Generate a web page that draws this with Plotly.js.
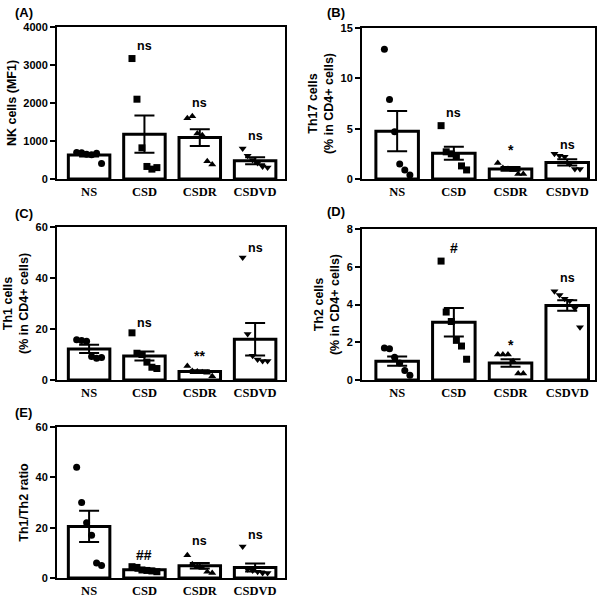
<!DOCTYPE html>
<html>
<head>
<meta charset="utf-8">
<script src="https://cdn.plot.ly/plotly-3.0.1.min.js"></script>
<style>html,body{margin:0;padding:0;background:#fff;}#chart{width:600px;height:599px;}</style>
</head>
<body>
<div id="chart"></div>
<script>
// ---- data ----
const categories = ["NS", "CSD", "CSDR", "CSDVD"];

// Panel A: NK cells (MF1)
const nkMean = [630, 1180, 1090, 480];
const nkSem = [40, 490, 220, 90];
const nkNS = [700, 690, 650, 640, 680, 410];
const nkCSD = [3170, 2100, 820, 330, 260, 300];
const nkCSDR = [1600, 1650, 1200, 1150, 470, 380];
const nkCSDVD = [800, 610, 500, 420, 330, 300];
const nkSig = ["", "ns", "ns", "ns"];
const nkSigY = [0, 3500, 2000, 1140];

// Panel B: Th17 cells
const th17Mean = [4.75, 2.55, 1.0, 1.65];
const th17Sem = [2.0, 0.65, 0.18, 0.3];
const th17NS = [12.9, 7.9, 4.7, 1.5, 0.9, 0.4];
const th17CSD = [5.3, 2.7, 2.5, 2.3, 1.3, 0.9];
const th17CSDR = [1.6, 1.1, 1.0, 0.9, 0.5, 0.5];
const th17CSDVD = [2.5, 2.3, 2.2, 1.5, 1.0, 1.0];
const th17Sig = ["", "ns", "*", "ns"];
const th17SigY = [0, 6.6, 2.85, 3.4];

// Panel C: Th1 cells
const th1Mean = [12.2, 9.4, 3.3, 16.0];
const th1Sem = [1.6, 1.8, 0.55, 6.4];
const th1NS = [15.8, 15.5, 15.2, 9.2, 8.5, 8.8];
const th1CSD = [18.5, 10.5, 10.0, 7.0, 5.0, 4.5];
const th1CSDR = [5.5, 3.5, 3.3, 3.0, 2.8, 1.5];
const th1CSDVD = [48, 18, 9.5, 8.0, 7.5, 7.5];
const th1Sig = ["", "ns", "**", "ns"];
const th1SigY = [0, 22.5, 9.4, 51.8];

// Panel D: Th2 cells
const th2Mean = [1.0, 3.06, 0.9, 3.95];
const th2Sem = [0.24, 0.75, 0.2, 0.28];
const th2NS = [1.7, 1.65, 1.2, 0.9, 0.5, 0.25];
const th2CSD = [6.3, 3.6, 3.1, 2.1, 1.8, 1.1];
const th2CSDR = [1.35, 1.35, 1.35, 1.0, 0.35, 0.35];
const th2CSDVD = [4.7, 4.5, 4.3, 4.2, 3.8, 2.8];
const th2Sig = ["", "#", "*", "ns"];
const th2SigY = [0, 7.0, 1.87, 5.4];

// Panel E: Th1/Th2 ratio
const ratioMean = [20.5, 3.3, 4.9, 4.2];
const ratioSem = [6.2, 0.4, 1.1, 1.6];
const ratioNS = [44, 30, 22, 17, 6, 5];
const ratioCSD = [4.5, 4.2, 3.2, 3.0, 2.8, 2.5];
const ratioCSDR = [9, 5.5, 4.5, 4.0, 2.5, 2.0];
const ratioCSDVD = [12.5, 3.5, 3.0, 2.5, 2.0, 2.0];
const ratioSig = ["", "##", "ns", "ns"];
const ratioSigY = [0, 9.1, 14.6, 17.2];

// ---- build ----
const W = 600, H = 599;
const symbols = ["circle", "square", "triangle-up", "triangle-down"];
const panels = [
  {label: "(A)", title: "NK cells (MF1)", mean: nkMean, sem: nkSem, pts: [nkNS, nkCSD, nkCSDR, nkCSDVD],
   sig: nkSig, sigY: nkSigY, range: [0, 4000], dtick: 1000, px: [57, 285], py: [27, 179], lab: [13, 12], xr: [-0.58, 3.54]},
  {label: "(B)", title: "Th17 cells<br>(% in CD4+ cells)", mean: th17Mean, sem: th17Sem, pts: [th17NS, th17CSD, th17CSDR, th17CSDVD],
   sig: th17Sig, sigY: th17SigY, range: [0, 15], dtick: 5, px: [362, 595], py: [28, 179], lab: [325, 12], xr: [-0.62, 3.49]},
  {label: "(C)", title: "Th1 cells<br>(% in CD4+ cells)", mean: th1Mean, sem: th1Sem, pts: [th1NS, th1CSD, th1CSDR, th1CSDVD],
   sig: th1Sig, sigY: th1SigY, range: [0, 60], dtick: 20, px: [57, 285], py: [227, 380], lab: [13, 213], xr: [-0.58, 3.54]},
  {label: "(D)", title: "Th2 cells<br>(% in CD4+ cells)", mean: th2Mean, sem: th2Sem, pts: [th2NS, th2CSD, th2CSDR, th2CSDVD],
   sig: th2Sig, sigY: th2SigY, range: [0, 8], dtick: 2, px: [362, 595], py: [229, 380], lab: [325, 212], xr: [-0.62, 3.49]},
  {label: "(E)", title: "Th1/Th2 ratio", mean: ratioMean, sem: ratioSem, pts: [ratioNS, ratioCSD, ratioCSDR, ratioCSDVD],
   sig: ratioSig, sigY: ratioSigY, range: [0, 60], dtick: 20, px: [57, 285], py: [427, 578], lab: [13, 412], xr: [-0.58, 3.54]}
];

const traces = [];
const layout = {
  width: W, height: H, margin: {l: 0, r: 0, t: 0, b: 0},
  paper_bgcolor: "#fff", plot_bgcolor: "#fff", showlegend: false,
  annotations: []
};
const bold = {family: "Liberation Sans, Arial, sans-serif", weight: "bold", color: "#000"};

panels.forEach((p, k) => {
  const n = k + 1;
  const xa = "x" + (n === 1 ? "" : n), ya = "y" + (n === 1 ? "" : n);
  const xk = "xaxis" + (n === 1 ? "" : n), yk = "yaxis" + (n === 1 ? "" : n);
  const idx = categories.map((c, i) => i);
  traces.push({
    type: "bar", x: idx, y: p.mean, xaxis: xa, yaxis: ya, width: 0.75,
    marker: {color: "#fff", line: {color: "#000", width: 3}},
    error_y: {type: "data", array: p.sem, visible: true, color: "#000", thickness: 2, width: 10},
    hoverinfo: "skip"
  });
  p.pts.forEach((vals, g) => {
    const m = vals.length;
    traces.push({
      type: "scatter", mode: "markers", xaxis: xa, yaxis: ya,
      x: vals.map((v, i) => g + (i - (m - 1) / 2) * 0.09),
      y: vals,
      marker: {symbol: symbols[g], size: 7, color: "#000"},
      hoverinfo: "skip"
    });
  });
  layout[xk] = {
    domain: [p.px[0] / W, p.px[1] / W], anchor: ya, range: p.xr,
    tickvals: idx, ticktext: categories, ticks: "", showgrid: false, zeroline: false,
    showline: true, linecolor: "#000", linewidth: 2, mirror: true,
    tickfont: {family: "Liberation Serif, Times New Roman, serif", weight: "bold", size: 12.5, color: "#000"},
    automargin: false, fixedrange: true
  };
  layout[yk] = {
    domain: [1 - p.py[1] / H, 1 - p.py[0] / H], anchor: xa, range: p.range, dtick: p.dtick, tick0: 0,
    ticks: "outside", ticklen: 5, tickwidth: 2, tickcolor: "#000", showgrid: false, zeroline: false,
    showline: true, linecolor: "#000", linewidth: 2, mirror: true,
    tickfont: Object.assign({size: 11}, bold),
    title: {text: p.title, font: Object.assign({size: 12.5}, bold), standoff: 4},
    automargin: false, fixedrange: true
  };
  layout.annotations.push({
    xref: "paper", yref: "paper", x: p.lab[0] / W, y: 1 - p.lab[1] / H,
    xanchor: "left", yanchor: "middle", text: p.label, showarrow: false,
    font: Object.assign({size: 13}, bold)
  });
  p.sig.forEach((s, g) => {
    if (!s) return;
    const isWord = s === "ns";
    layout.annotations.push({
      xref: xa, yref: ya, x: g, y: p.sigY[g], text: s, showarrow: false,
      xanchor: "center", yanchor: "middle", font: Object.assign({size: isWord ? 12.5 : 14}, bold)
    });
  });
});

Plotly.newPlot("chart", traces, layout, {staticPlot: true, displayModeBar: false});
</script>
</body>
</html>
